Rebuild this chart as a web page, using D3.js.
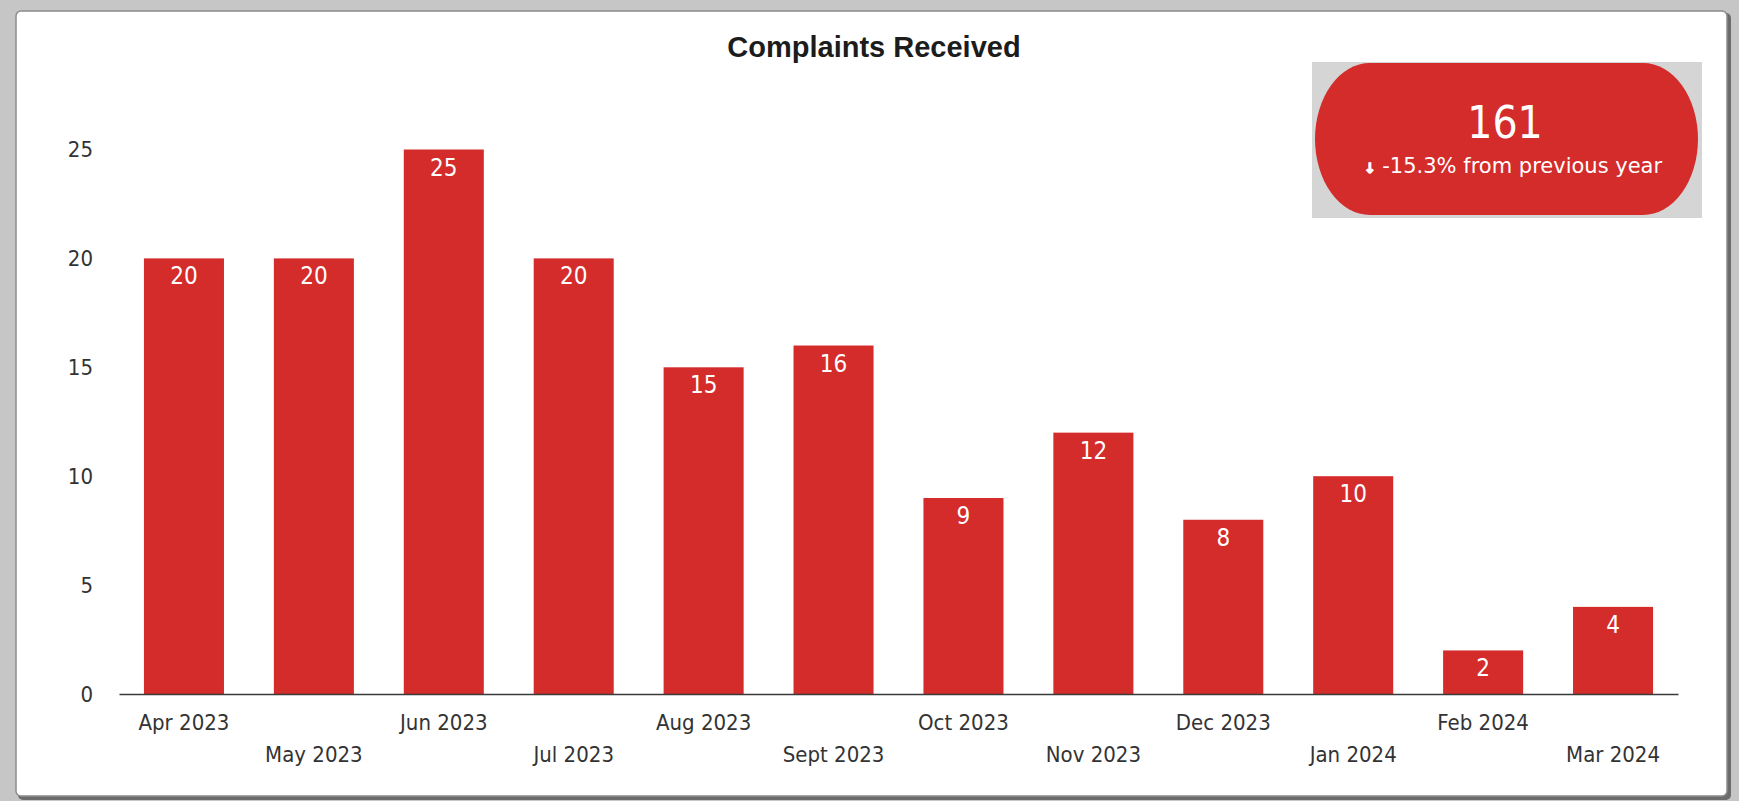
<!DOCTYPE html>
<html>
<head>
<meta charset="utf-8">
<script src="https://cdn.jsdelivr.net/npm/d3@7"></script>
<style>
  html, body { margin: 0; padding: 0; background: #c6c6c6; }
  svg { display: block; }
</style>
</head>
<body>
<svg id="chart" width="1739" height="801"></svg>
<script>
// Monthly complaints, Apr 2023 – Mar 2024
const months = ["Apr 2023", "May 2023", "Jun 2023", "Jul 2023", "Aug 2023", "Sept 2023",
                "Oct 2023", "Nov 2023", "Dec 2023", "Jan 2024", "Feb 2024", "Mar 2024"];
const complaints = [20, 20, 25, 20, 15, 16, 9, 12, 8, 10, 2, 4];
const yTicks = [0, 5, 10, 15, 20, 25];

// Headline card
const totalComplaints = 161;
const changeText = "-15.3% from previous year";

const RED = "#d42b2b";
const LABEL_FONT = "'DejaVu Sans Condensed', 'DejaVu Sans', sans-serif";

const svg = d3.select("#chart");

// Panel with a soft frame and drop shadow
svg.append("rect")
  .attr("x", 18).attr("y", 13).attr("width", 1713).attr("height", 787)
  .attr("rx", 5).attr("fill", "#6c6c6c");
svg.append("rect")
  .attr("x", 16).attr("y", 11).attr("width", 1711).attr("height", 785)
  .attr("rx", 5).attr("fill", "#ffffff")
  .attr("stroke", "#8c8c8c").attr("stroke-width", 1.5);

// Title
svg.append("text")
  .attr("x", 874).attr("y", 57)
  .attr("text-anchor", "middle")
  .attr("font-family", "'Liberation Sans', Arial, sans-serif")
  .attr("font-weight", "bold")
  .attr("font-size", 29)
  .attr("fill", "#1c1c1c")
  .text("Complaints Received");

// Scales
const x = d3.scaleBand()
  .domain(months)
  .range([119, 1678])
  .paddingInner(0.384)
  .paddingOuter(0.192);

const y = d3.scaleLinear()
  .domain([0, 25])
  .range([694, 149.5]);

// Bars
svg.append("g")
  .selectAll("rect")
  .data(months)
  .join("rect")
  .attr("x", d => x(d))
  .attr("width", x.bandwidth())
  .attr("y", (d, i) => y(complaints[i]))
  .attr("height", (d, i) => y(0) - y(complaints[i]))
  .attr("fill", RED);

// Value labels inside the top of each bar
svg.append("g")
  .selectAll("text")
  .data(months)
  .join("text")
  .attr("x", d => x(d) + x.bandwidth() / 2)
  .attr("y", (d, i) => y(complaints[i]) + 26)
  .attr("text-anchor", "middle")
  .attr("font-family", LABEL_FONT)
  .attr("font-size", 24)
  .attr("fill", "#ffffff")
  .text((d, i) => complaints[i]);

// Y axis (labels only)
const yAxis = svg.append("g")
  .attr("transform", "translate(119,0)")
  .call(d3.axisLeft(y).tickValues(yTicks).tickSize(0).tickPadding(26).tickFormat(d3.format("d")));
yAxis.select(".domain").remove();
yAxis.selectAll("text")
  .attr("font-family", LABEL_FONT)
  .attr("font-size", 22)
  .attr("fill", "#333333");

// X axis with staggered month labels
const xAxis = svg.append("g")
  .attr("transform", "translate(0,694)")
  .call(d3.axisBottom(x).tickSize(0).tickSizeOuter(0));
xAxis.select(".domain")
  .attr("stroke", "#3a3a3a")
  .attr("stroke-width", 1.6);
xAxis.selectAll("text")
  .attr("dy", 0)
  .attr("y", (d, i) => (i % 2 === 0 ? 36 : 68))
  .attr("font-family", LABEL_FONT)
  .attr("font-size", 22)
  .attr("fill", "#333333");

// Headline card: total and year-on-year change
const card = svg.append("g");
card.append("rect")
  .attr("x", 1312).attr("y", 62).attr("width", 390).attr("height", 156)
  .attr("fill", "#d5d5d5");
card.append("rect")
  .attr("x", 1315).attr("y", 63).attr("width", 383).attr("height", 152)
  .attr("rx", 55).attr("ry", 76)
  .attr("fill", RED);
card.append("text")
  .attr("x", 1505).attr("y", 138)
  .attr("text-anchor", "middle")
  .attr("font-family", LABEL_FONT)
  .attr("font-size", 44)
  .attr("fill", "#ffffff")
  .text(totalComplaints);
const sub = card.append("text")
  .attr("x", 1513).attr("y", 173)
  .attr("text-anchor", "middle")
  .attr("font-family", "'DejaVu Sans', sans-serif")
  .attr("font-size", 21)
  .attr("fill", "#ffffff");
sub.append("tspan")
  .attr("font-size", 14)
  .attr("font-weight", "bold")
  .attr("stroke", "#ffffff")
  .attr("stroke-width", 1.2)
  .text("\u2193");
sub.append("tspan")
  .text(" " + changeText);
</script>
</body>
</html>
